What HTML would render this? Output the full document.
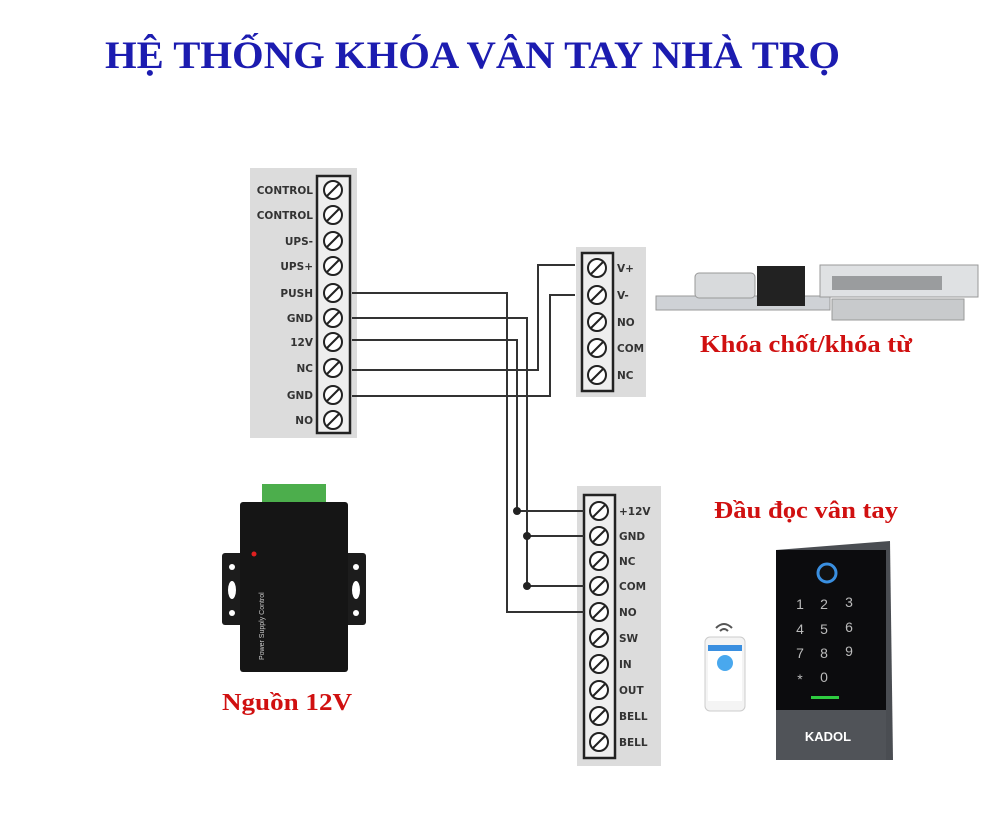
<!DOCTYPE html>
<html><head><meta charset="utf-8"><style>
body{margin:0;background:#fff}
svg{display:block}
.l{font-family:"DejaVu Sans","Liberation Sans",sans-serif;font-size:10.5px;fill:#333;font-weight:bold}
.r{font-family:"Liberation Serif",serif;font-weight:bold;fill:#d01010}
</style></head><body>
<svg width="1000" height="834" viewBox="0 0 1000 834" xmlns="http://www.w3.org/2000/svg">
<defs>
<g id="s"><circle r="9" fill="#fff" stroke="#222" stroke-width="2"/><line x1="-6" y1="6" x2="6" y2="-6" stroke="#222" stroke-width="2"/></g>
</defs>
<text x="105" y="68" font-family="Liberation Serif,serif" font-weight="bold" font-size="39" fill="#1c1cb0" textLength="735" lengthAdjust="spacingAndGlyphs">HỆ THỐNG KHÓA VÂN TAY NHÀ TRỌ</text>

<!-- left panel -->
<rect x="250" y="168" width="107" height="270" fill="#dcdcdc"/>
<rect x="317" y="176" width="33" height="257" fill="#eee" stroke="#222" stroke-width="2.5"/>
<g class="l" text-anchor="end">
<text x="313" y="194">CONTROL</text><text x="313" y="219">CONTROL</text><text x="313" y="245">UPS-</text><text x="313" y="270">UPS+</text><text x="313" y="297">PUSH</text><text x="313" y="322">GND</text><text x="313" y="346">12V</text><text x="313" y="372">NC</text><text x="313" y="399">GND</text><text x="313" y="424">NO</text>
</g>
<use href="#s" x="333" y="190"/><use href="#s" x="333" y="215"/><use href="#s" x="333" y="241"/><use href="#s" x="333" y="266"/><use href="#s" x="333" y="293"/><use href="#s" x="333" y="318"/><use href="#s" x="333" y="342"/><use href="#s" x="333" y="368"/><use href="#s" x="333" y="395"/><use href="#s" x="333" y="420"/>

<!-- top right panel -->
<rect x="576" y="247" width="70" height="150" fill="#dcdcdc"/>
<rect x="582" y="253" width="31" height="138" fill="#eee" stroke="#222" stroke-width="2.5"/>
<g class="l"><text x="617" y="272">V+</text><text x="617" y="299">V-</text><text x="617" y="326">NO</text><text x="617" y="352">COM</text><text x="617" y="379">NC</text></g>
<use href="#s" x="597" y="268"/><use href="#s" x="597" y="295"/><use href="#s" x="597" y="322"/><use href="#s" x="597" y="348"/><use href="#s" x="597" y="375"/>

<!-- bottom panel -->
<rect x="577" y="486" width="84" height="280" fill="#dcdcdc"/>
<rect x="584" y="495" width="31" height="263" fill="#eee" stroke="#222" stroke-width="2.5"/>
<g class="l"><text x="619" y="515">+12V</text><text x="619" y="540">GND</text><text x="619" y="565">NC</text><text x="619" y="590">COM</text><text x="619" y="616">NO</text><text x="619" y="642">SW</text><text x="619" y="668">IN</text><text x="619" y="694">OUT</text><text x="619" y="720">BELL</text><text x="619" y="746">BELL</text></g>
<use href="#s" x="599" y="511"/><use href="#s" x="599" y="536"/><use href="#s" x="599" y="561"/><use href="#s" x="599" y="586"/><use href="#s" x="599" y="612"/><use href="#s" x="599" y="638"/><use href="#s" x="599" y="664"/><use href="#s" x="599" y="690"/><use href="#s" x="599" y="716"/><use href="#s" x="599" y="742"/>

<!-- wires -->
<g fill="none" stroke="#333" stroke-width="2">
<polyline points="352,293 507,293 507,612 584,612"/>
<polyline points="352,318 527,318 527,586 584,586"/>
<line x1="527" y1="536" x2="584" y2="536"/>
<polyline points="352,340 517,340 517,511 584,511"/>
<polyline points="352,370 538,370 538,265 575,265"/>
<polyline points="352,396 550,396 550,295 575,295"/>
</g>
<g fill="#222"><circle cx="517" cy="511" r="4"/><circle cx="527" cy="536" r="4"/><circle cx="527" cy="586" r="4"/></g>

<!-- locks -->
<rect x="656" y="296" width="174" height="14" fill="#cfd2d6" stroke="#999"/>
<rect x="695" y="273" width="60" height="25" rx="4" fill="#d8dadc" stroke="#999"/>
<rect x="757" y="266" width="48" height="40" fill="#222"/>
<rect x="820" y="265" width="158" height="32" fill="#dfe1e3" stroke="#999"/>
<rect x="832" y="276" width="110" height="14" fill="#9a9c9e"/>
<rect x="832" y="299" width="132" height="21" fill="#c8cacc" stroke="#999"/>
<text class="r" x="700" y="352" font-size="24" textLength="212" lengthAdjust="spacingAndGlyphs">Khóa chốt/khóa từ</text>

<!-- power supply -->
<rect x="262" y="484" width="64" height="20" fill="#4cae4c"/>
<rect x="222" y="553" width="144" height="72" rx="3" fill="#1c1c1c"/>
<rect x="240" y="502" width="108" height="170" rx="3" fill="#151515"/>
<circle cx="232" cy="567" r="3" fill="#fff"/><circle cx="232" cy="613" r="3" fill="#fff"/><circle cx="356" cy="567" r="3" fill="#fff"/><circle cx="356" cy="613" r="3" fill="#fff"/>
<ellipse cx="232" cy="590" rx="4" ry="9" fill="#fff"/><ellipse cx="356" cy="590" rx="4" ry="9" fill="#fff"/>
<circle cx="254" cy="554" r="2.5" fill="#e02020"/>
<text x="264" y="660" transform="rotate(-90 264 660)" font-family="Liberation Sans,sans-serif" font-size="7" fill="#ccc">Power Supply Control</text>
<text class="r" x="222" y="710" font-size="24" textLength="130" lengthAdjust="spacingAndGlyphs">Nguồn 12V</text>

<!-- reader -->
<text class="r" x="714" y="518" font-size="24" textLength="184" lengthAdjust="spacingAndGlyphs">Đầu đọc vân tay</text>
<polygon points="776,550 890,541 893,760 776,760" fill="#4a4d52"/>
<rect x="776" y="550" width="110" height="160" fill="#0c0c0e"/>
<rect x="776" y="710" width="110" height="50" fill="#505358"/>
<circle cx="827" cy="573" r="9" fill="#111" stroke="#3a8fe0" stroke-width="3"/>
<g font-family="Liberation Sans,sans-serif" font-size="14" fill="#bbb" text-anchor="middle">
<text x="800" y="609">1</text><text x="824" y="609">2</text><text x="849" y="607">3</text>
<text x="800" y="634">4</text><text x="824" y="634">5</text><text x="849" y="632">6</text>
<text x="800" y="658">7</text><text x="824" y="658">8</text><text x="849" y="656">9</text>
<text x="800" y="684">*</text><text x="824" y="682">0</text>
</g>
<rect x="811" y="696" width="28" height="3" fill="#2ecc40"/>
<text x="828" y="741" text-anchor="middle" font-family="Liberation Sans,sans-serif" font-weight="bold" font-size="13" fill="#fff">KADOL</text>

<!-- phone -->
<rect x="705" y="637" width="40" height="74" rx="5" fill="#f4f4f4" stroke="#ccc"/>
<rect x="708" y="645" width="34" height="56" fill="#fff"/>
<rect x="708" y="645" width="34" height="6" fill="#3a8fe0"/>
<circle cx="725" cy="663" r="8" fill="#49a8ee"/>
<path d="M716 628 Q724 620 732 628" fill="none" stroke="#555" stroke-width="2"/>
<path d="M720 631 Q724 627 728 631" fill="none" stroke="#555" stroke-width="2"/>
</svg>
</body></html>
